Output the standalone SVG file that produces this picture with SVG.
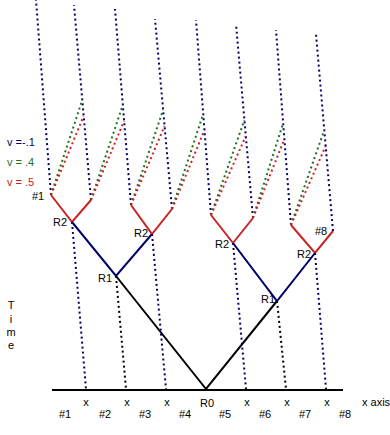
<svg xmlns="http://www.w3.org/2000/svg" width="390" height="435" viewBox="0 0 390 435">
<style>
text{font-family:"Liberation Sans",Arial,sans-serif;font-size:11px;fill:#000}
.m{text-anchor:middle}
.s{fill:none;stroke-width:2}
.d{fill:none;stroke-width:2;stroke-dasharray:2 3}
.k{stroke:#000}
.b{stroke:#000066}
.r{stroke:#cc2222}
.g{stroke:#1f6f1f}
</style>
<rect width="390" height="435" fill="#fff"/>
<g id="connectors">
  <line class="s k" x1="52" y1="390" x2="343" y2="390"/>
  <path class="s k" d="M116,276 L206,389 L277,301"/>
  <path class="s b" d="M72,222 L116,276 L152,234 M233,243 L277,301 L315,253"/>
  <path class="s r" d="M51,195 L72,222 L91,200 M131,205 L152,234 L172,209 M211,215 L233,243 L253,218 M291,225 L315,253 L333,231"/>
  <path class="d b" d="M51,195 L36,0 M91,200 L74,5 M131,205 L115,9 M172,209 L155,19 M211,215 L196,20 M253,218 L236,24 M291,225 L276,30 M333,231 L316,34"/>
  <path class="d b" d="M72,222 L86,389 M152,234 L166,389 M233,243 L246,389 M315,253 L326,389"/>
  <path class="d k" d="M116,276 L126,389 M277,301 L286,389"/>
  <path class="d g" d="M51,195 L82.3,100 M91,200 L122.8,105 M131,205 L163.1,110 M172,209 L203.2,114 M211,215 L244.4,120 M253,218 L283.2,123 M291,225 L324.3,130"/>
  <path class="d r" d="M51,195 L83.7,116 M91,200 L124.1,121 M131,205 L164.6,126 M172,209 L204.5,130 M211,215 L245.8,136 M253,218 L284.4,139 M291,225 L325.7,146"/>
</g>
<g id="legend">
  <text x="7" y="146" style="fill:#000066">v =-.1</text>
  <text x="7" y="166" style="fill:#1f6f1f">v = .4</text>
  <text x="7" y="186" style="fill:#cc2222">v = .5</text>
</g>
<g id="time-label">
  <text class="m" x="11" y="309">T</text>
  <text class="m" x="11" y="323">i</text>
  <text class="m" x="11" y="336">m</text>
  <text class="m" x="11" y="349">e</text>
</g>
<g id="node-R0"><text class="m" x="207" y="407">R0</text></g>
<g id="node-R1-left"><text x="98" y="282">R1</text></g>
<g id="node-R1-right"><text x="261" y="303">R1</text></g>
<g id="node-R2-a"><text x="53" y="226">R2</text></g>
<g id="node-R2-b"><text x="134" y="237">R2</text></g>
<g id="node-R2-c"><text x="215" y="248">R2</text></g>
<g id="node-R2-d"><text x="297" y="258">R2</text></g>
<g id="node-end1"><text x="32" y="200">#1</text></g>
<g id="node-end8"><text x="315" y="235">#8</text></g>
<g id="axis-labels">
  <text class="m" x="86" y="406">x</text>
  <text class="m" x="127" y="406">x</text>
  <text class="m" x="167" y="406">x</text>
  <text class="m" x="247" y="406">x</text>
  <text class="m" x="287" y="406">x</text>
  <text class="m" x="327" y="406">x</text>
  <text x="362" y="406">x axis</text>
  <text class="m" x="65" y="418">#1</text>
  <text class="m" x="105" y="418">#2</text>
  <text class="m" x="145" y="418">#3</text>
  <text class="m" x="185" y="418">#4</text>
  <text class="m" x="225" y="418">#5</text>
  <text class="m" x="265" y="418">#6</text>
  <text class="m" x="305" y="418">#7</text>
  <text class="m" x="345" y="418">#8</text>
</g>
</svg>
